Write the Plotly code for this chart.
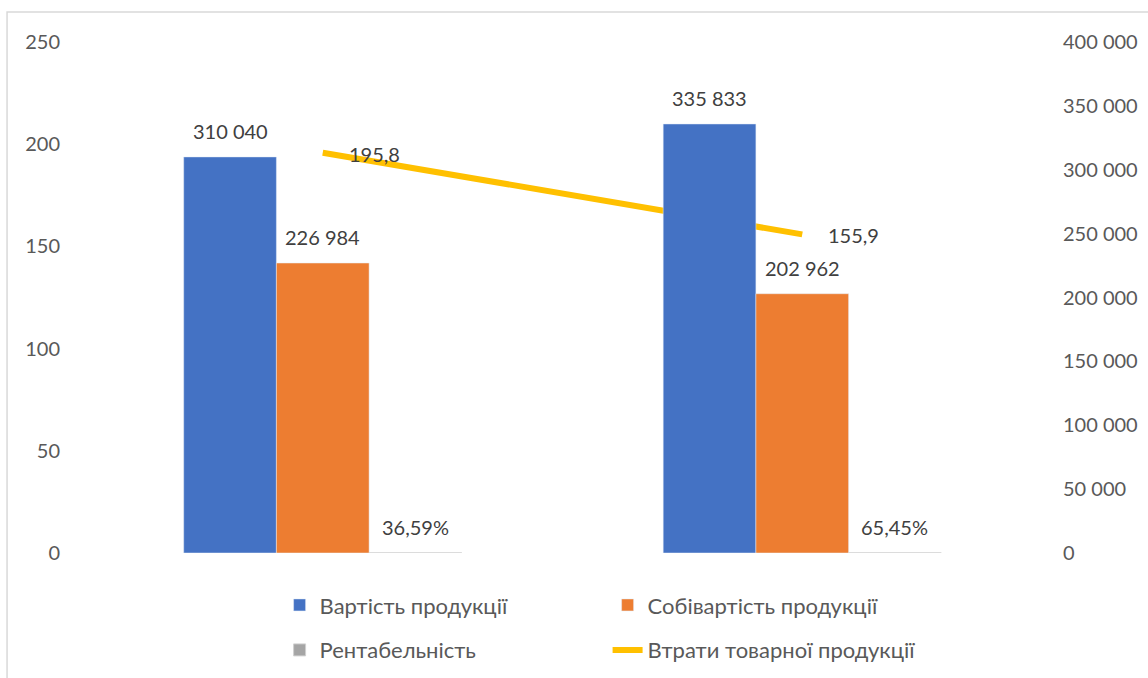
import plotly.graph_objects as go

# Data
categories = ["Період 1", "Період 2"]
vartist = [310040, 335833]          # Вартість продукції
sobivartist = [226984, 202962]      # Собівартість продукції
rentabelnist = [0.3659, 0.6545]     # Рентабельність (частка)
vtraty = [195.8, 155.9]             # Втрати товарної продукції

C_BLUE = "#4472C4"
C_ORANGE = "#ED7D31"
C_GRAY = "#A5A5A5"
C_YELLOW = "#FFC000"
FONT = "Lato"
TXT = "#404040"
TICK = "#595959"
FS = 20
LEG_FS = 22


def fmt_int(v):
    return f"{v:,}".replace(",", " ")


def fmt_pct(v):
    return f"{v * 100:.2f}%".replace(".", ",")


def fmt_dec(v):
    return f"{v:.1f}".replace(".", ",")


fig = go.Figure()
fig.add_bar(x=categories, y=vartist, name="Вартість продукції",
            marker_color=C_BLUE, yaxis="y2", legend="legend")
fig.add_bar(x=categories, y=sobivartist, name="Собівартість продукції",
            marker_color=C_ORANGE, yaxis="y2", legend="legend")
fig.add_bar(x=categories, y=rentabelnist, name="Рентабельність",
            marker=dict(color=C_GRAY, line=dict(color="#D0D0D0", width=1)),
            yaxis="y2", legend="legend2")
fig.add_scatter(x=categories, y=vtraty, name="Втрати товарної продукції",
                mode="lines", line=dict(color=C_YELLOW, width=6),
                yaxis="y", legend="legend2")

# value labels
annotations = []
bar_shift = 92.5
for series, shift, fmt in [(vartist, -bar_shift, fmt_int),
                           (sobivartist, 0, fmt_int),
                           (rentabelnist, bar_shift, fmt_pct)]:
    for cat, val in zip(categories, series):
        annotations.append(dict(x=cat, y=val, xref="x", yref="y2",
                                text=fmt(val), showarrow=False,
                                xshift=shift, yshift=26, yanchor="middle",
                                font=dict(family=FONT, size=FS, color=TXT)))
for cat, val in zip(categories, vtraty):
    annotations.append(dict(x=cat, y=val, xref="x", yref="y",
                            text=fmt_dec(val), showarrow=False,
                            xanchor="left", xshift=24, yshift=-1,
                            yanchor="middle",
                            font=dict(family=FONT, size=FS, color=TXT)))

legend_common = dict(orientation="h", xanchor="left", yanchor="middle",
                     entrywidth=283, entrywidthmode="pixels",
                     font=dict(family=FONT, size=LEG_FS, color=TICK),
                     bgcolor="rgba(0,0,0,0)")

fig.update_layout(
    width=1148, height=678,
    margin=dict(l=83, r=106, t=42, b=125, autoexpand=False),
    paper_bgcolor="white", plot_bgcolor="white",
    separators=", ",
    barmode="group", bargap=0.42, bargroupgap=0,
    font=dict(family=FONT, size=FS, color=TICK),
    xaxis=dict(showticklabels=False, showgrid=False, zeroline=False,
               showline=False, ticks=""),
    yaxis=dict(range=[0, 250], dtick=50, showgrid=False, zeroline=False,
               showline=False, ticks="", ticklabelstandoff=22,
               tickfont=dict(family=FONT, size=FS, color=TICK)),
    yaxis2=dict(range=[0, 400000], dtick=50000, tickformat=",d",
                overlaying="y", side="right", showgrid=False,
                zeroline=False, showline=False, ticks="",
                ticklabelstandoff=20,
                tickfont=dict(family=FONT, size=FS, color=TICK)),
    legend=dict(x=0.205, y=-0.102, **legend_common),
    legend2=dict(x=0.205, y=-0.19, **legend_common),
    annotations=annotations,
    shapes=[dict(type="rect", xref="paper", yref="paper",
                 x0=-0.0792, x1=1.3, y0=-0.4, y1=1.0587,
                 line=dict(color="#D9D9D9", width=1.5),
                 fillcolor="rgba(0,0,0,0)", layer="below")],
)

fig.write_html("out.html")
